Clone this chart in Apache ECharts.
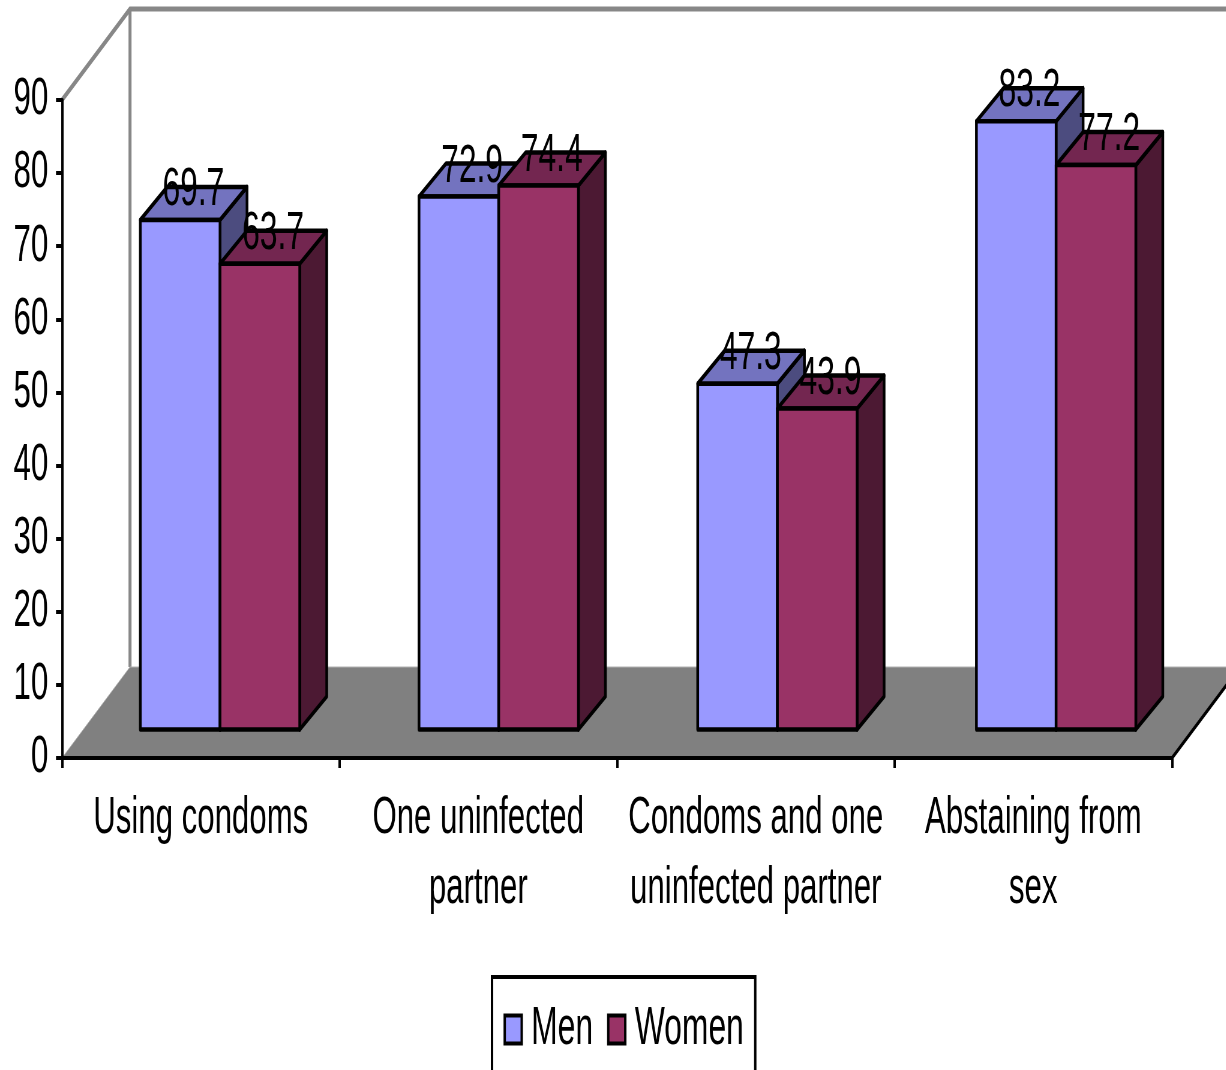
<!DOCTYPE html>
<html>
<head>
<meta charset="utf-8">
<style>
  html, body { margin: 0; padding: 0; background: #fff; overflow: hidden; width: 1226px; height: 1070px; }
  #frame { width: 1226px; height: 1070px; overflow: hidden; position: relative; }
  #main { position: absolute; left: 0; top: 0; height: 1070px; transform-origin: 0 0; }
</style>
<script src="https://cdn.jsdelivr.net/npm/echarts@6/dist/echarts.min.js"></script>
</head>
<body>
<div id="frame"><div id="main"></div></div>
<script>
// Survey results: share of respondents naming each way of avoiding infection.
const categories = ['Using condoms', 'One uninfected\npartner', 'Condoms and one\nuninfected partner', 'Abstaining from\nsex'];
const men = [69.7, 72.9, 47.3, 83.2];
const women = [63.7, 74.4, 43.9, 77.2];
const yTicks = { min: 0, max: 90, interval: 10 };

// The whole chart is drawn wide and squeezed horizontally, giving the condensed lettering.
const SQUEEZE = 0.6;
const px = v => v / SQUEEZE;

const main = document.getElementById('main');
main.style.width = px(1226) + 'px';
main.style.transform = 'scaleX(' + SQUEEZE + ')';

const FONT = '"Liberation Sans", Arial, sans-serif';
const FONT_SIZE = 53;
const TEXT_SIZE = 52;

// Oblique depth of the chart box and of each column.
const BOX_DX = px(68), BOX_DY = 91;
const BAR_DX = px(27), BAR_DY = 33;
const BAR_W = px(79.7), BAR_LIFT = 28.5;

const MEN_SHADES = { front: '#9999FF', top: '#7373BF', side: '#4C4C7F' };
const WOMEN_SHADES = { front: '#993366', top: '#732650', side: '#4C1933' };

const edge = { stroke: '#000', lineWidth: 4.5, lineJoin: 'round' };

function poly(points, fill) {
  return { type: 'polygon', shape: { points }, style: Object.assign({ fill }, edge) };
}

function boxItem(params, api) {
  const size = api.size([1, 0])[0];
  const left = api.coord([0, 0])[0] - size / 2;
  const right = api.coord([categories.length - 1, 0])[0] + size / 2;
  const y0 = api.coord([0, yTicks.min])[1];
  const yTop = api.coord([0, yTicks.max])[1];
  const wall = { stroke: '#878787', lineWidth: 5, fill: null };
  return {
    type: 'group',
    children: [
      { type: 'polyline', shape: { points: [[left, yTop], [left + BOX_DX, yTop - BOX_DY], [right + BOX_DX + px(60), yTop - BOX_DY]] }, style: wall },
      { type: 'line', shape: { x1: left + BOX_DX, y1: yTop - BOX_DY, x2: left + BOX_DX, y2: y0 - BOX_DY }, style: { stroke: '#878787', lineWidth: 5 } },
      { type: 'polygon', shape: { points: [[left, y0], [left + BOX_DX, y0 - BOX_DY], [right + BOX_DX, y0 - BOX_DY], [right, y0]] }, style: { fill: '#808080', stroke: '#b0b0b0', lineWidth: 1 } },
      { type: 'line', shape: { x1: right, y1: y0, x2: right + BOX_DX, y2: y0 - BOX_DY }, style: { stroke: '#000', lineWidth: 4 } }
    ]
  };
}

// Draws one column of a pair; side is -1 for the left column and 0 for the right one.
function columnRenderer(side, shades) {
  return function (params, api) {
    const i = api.value(0);
    const v = api.value(1);
    const pos = api.coord([i, v]);
    const seam = pos[0] * 1.0043 + px(18.4);
    const x0 = seam + side * BAR_W;
    const x1 = x0 + BAR_W;
    const top = pos[1] - BAR_LIFT;
    const base = api.coord([i, 0])[1] - BAR_LIFT;
    return {
      type: 'group',
      children: [
        poly([[x1, top], [x1 + BAR_DX, top - BAR_DY], [x1 + BAR_DX, base - BAR_DY], [x1, base]], shades.side),
        poly([[x0, top], [x0 + BAR_DX, top - BAR_DY], [x1 + BAR_DX, top - BAR_DY], [x1, top]], shades.top),
        poly([[x0, top], [x1, top], [x1, base], [x0, base]], shades.front),
        {
          type: 'text',
          z2: 100,
          style: {
            text: String(v),
            x: (x0 + x1) / 2 + px(13.2),
            y: top - 29.5,
            align: 'center',
            verticalAlign: 'middle',
            fill: '#000',
            font: FONT_SIZE + 'px ' + FONT
          }
        }
      ]
    };
  };
}

const chart = echarts.init(main, null, { renderer: 'canvas' });
chart.setOption({
  animation: false,
  backgroundColor: '#fff',
  textStyle: { fontFamily: FONT },
  grid: { left: px(62), top: 100, width: px(1110), height: 658, containLabel: false },
  legend: {
    left: px(492),
    top: 977,
    orient: 'horizontal',
    icon: 'rect',
    data: ['Men', 'Women'],
    padding: [26, px(11.5), 30, px(11.5)],
    itemWidth: px(17),
    itemHeight: 28,
    itemGap: px(14),
    borderColor: '#000',
    borderWidth: 4,
    itemStyle: { borderColor: '#000', borderWidth: 4 },
    formatter: '{t|{name}}',
    textStyle: {
      rich: { t: { fontSize: FONT_SIZE, fontFamily: FONT, color: '#000', padding: [0, 0, 0, px(6.5)] } }
    }
  },
  xAxis: {
    type: 'category',
    data: categories,
    boundaryGap: true,
    z: 5,
    axisLine: { lineStyle: { color: '#000', width: 4 } },
    axisTick: { show: true, length: 10, alignWithLabel: false, lineStyle: { color: '#000', width: 4 } },
    axisLabel: { interval: 0, margin: 26, color: '#000', fontSize: TEXT_SIZE, fontFamily: FONT, lineHeight: 70 },
    splitLine: { show: false }
  },
  yAxis: {
    type: 'value',
    min: yTicks.min,
    max: yTicks.max,
    interval: yTicks.interval,
    z: 5,
    axisLine: { show: true, lineStyle: { color: '#000', width: 4 } },
    axisTick: { show: true, length: 10, lineStyle: { color: '#000', width: 4 } },
    axisLabel: { margin: 23, color: '#000', fontSize: TEXT_SIZE, fontFamily: FONT, padding: [3, 0, 0, 0] },
    splitLine: { show: false }
  },
  series: [
    {
      type: 'custom', name: 'Chart box', z: 1, silent: true, clip: false,
      data: [[0, 0]], encode: { x: 0, y: 1 }, renderItem: boxItem
    },
    {
      type: 'custom', name: 'Men', z: 2, clip: false,
      itemStyle: { color: MEN_SHADES.front },
      data: categories.map((c, i) => [i, men[i]]), encode: { x: 0, y: 1 },
      renderItem: columnRenderer(-1, MEN_SHADES)
    },
    {
      type: 'custom', name: 'Women', z: 2, clip: false,
      itemStyle: { color: WOMEN_SHADES.front },
      data: categories.map((c, i) => [i, women[i]]), encode: { x: 0, y: 1 },
      renderItem: columnRenderer(0, WOMEN_SHADES)
    }
  ]
});
</script>
</body>
</html>
